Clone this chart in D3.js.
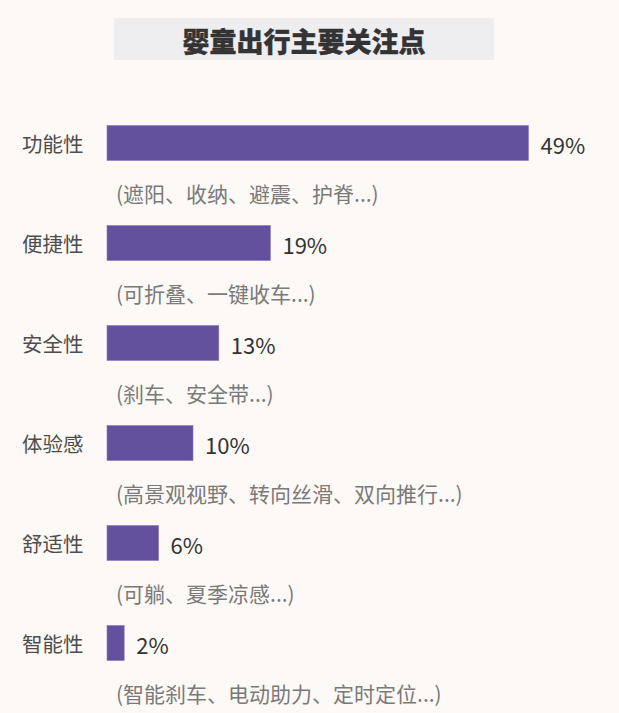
<!DOCTYPE html>
<html>
<head>
<meta charset="utf-8">
<script src="https://cdn.jsdelivr.net/npm/d3@7"></script>
<style>
  html, body { margin: 0; padding: 0; background: #fdf9f6; }
  svg { display: block; }
  text { font-family: "Noto Sans CJK SC", "Noto Sans", sans-serif; }
</style>
</head>
<body>
<svg id="chart" width="619" height="713"></svg>
<script>
const title = "婴童出行主要关注点";
const categories = ["功能性", "便捷性", "安全性", "体验感", "舒适性", "智能性"];
const values = [49, 19, 13, 10, 6, 2];
const details = [
  "(遮阳、收纳、避震、护脊...)",
  "(可折叠、一键收车...)",
  "(刹车、安全带...)",
  "(高景观视野、转向丝滑、双向推行...)",
  "(可躺、夏季凉感...)",
  "(智能刹车、电动助力、定时定位...)"
];

const svg = d3.select("#chart");
const W = 619, H = 713;

svg.append("rect").attr("width", W).attr("height", H).attr("fill", "#fdf9f6");

// title
svg.append("rect")
  .attr("x", 114).attr("y", 18).attr("width", 380).attr("height", 42)
  .attr("fill", "#eeeef0");
svg.append("text")
  .attr("x", 304).attr("y", 40)
  .attr("text-anchor", "middle").attr("dominant-baseline", "central")
  .attr("font-size", 27).attr("font-weight", 900).attr("fill", "#333333")
  .attr("stroke", "#333333").attr("stroke-width", 0.4)
  .text(title);

const y = d3.scaleBand().domain(categories).range([93, 693]).paddingInner(0.65).paddingOuter(0.325);
const x = d3.scaleLinear().domain([0, 49]).range([107, 528.5]);

const data = categories.map((c, i) => ({ c, v: values[i], d: details[i] }));
const rowC = d => y(d.c) + y.bandwidth() / 2;

const g = svg.append("g");

g.selectAll("rect.bar").data(data).enter().append("rect")
  .attr("class", "bar")
  .attr("x", x(0))
  .attr("y", d => y(d.c))
  .attr("width", d => x(d.v) - x(0))
  .attr("height", y.bandwidth())
  .attr("fill", "#63519e")
  .attr("stroke", "#8a7bbd").attr("stroke-width", 0.6);

g.selectAll("text.cat").data(data).enter().append("text")
  .attr("class", "cat")
  .attr("x", 22).attr("y", d => rowC(d))
  .attr("dominant-baseline", "central")
  .attr("font-size", 20.5).attr("fill", "#4d4d4d")
  .text(d => d.c);

g.selectAll("text.val").data(data).enter().append("text")
  .attr("class", "val")
  .attr("x", d => x(d.v) + 12).attr("y", d => rowC(d) + 1)
  .attr("dominant-baseline", "central")
  .attr("font-size", 22).attr("fill", "#333333")
  .text(d => d.v + "%");

g.selectAll("text.det").data(data).enter().append("text")
  .attr("class", "det")
  .attr("x", 116).attr("y", d => rowC(d) + 50)
  .attr("dominant-baseline", "central")
  .attr("font-size", 21).attr("fill", "#7a7a7a")
  .text(d => d.d);
</script>
</body>
</html>
